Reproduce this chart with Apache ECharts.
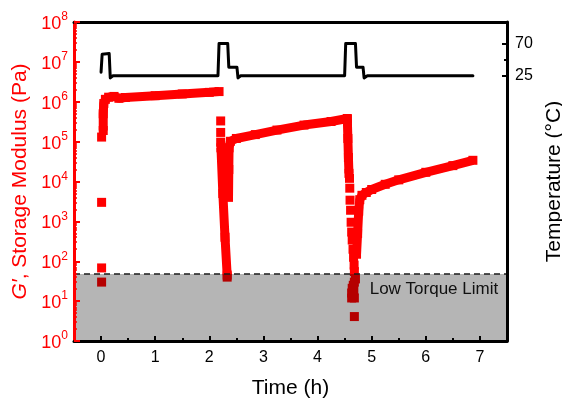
<!DOCTYPE html>
<html>
<head>
<meta charset="utf-8">
<title>Storage modulus and temperature vs time</title>
<script src="https://cdn.jsdelivr.net/npm/echarts@6/dist/echarts.min.js"></script>
<style>
  html, body { margin: 0; padding: 0; background: #ffffff; }
  #chart { width: 562px; height: 401px; }
</style>
</head>
<body>
<div id="chart"></div>
<script>
// Axis ticks
const timeTicks = [0, 1, 2, 3, 4, 5, 6, 7];
const timeMinorTicks = [0.5, 1.5, 2.5, 3.5, 4.5, 5.5, 6.5];
const modulusDecades = [1, 10, 100, 1e3, 1e4, 1e5, 1e6, 1e7, 1e8];
const temperatureTicks = [25, 70];
const temperatureMinorTicks = [47.5];
const lowTorqueLimit = 48; // Pa

// G' (time in h, modulus in Pa) — continuous stretches of the measurement
const gelRun1 = [
  [0.04, 1.9e5], [0.04, 5e5], [0.05, 9e5], [0.08, 1.15e6], [0.14, 1.3e6],
  [0.24, 1.36e6], [0.33, 1.22e6], [0.45, 1.28e6], [1.0, 1.42e6],
  [1.5, 1.57e6], [2.0, 1.72e6], [2.18, 1.8e6]
];
const meltRun2 = [
  [2.215, 7e4], [2.25, 5000], [2.29, 400], [2.33, 45]
];
const gelRun2 = [
  [2.355, 4000], [2.36, 2e4], [2.365, 7e4], [2.39, 1.02e5], [2.5, 1.2e5],
  [2.85, 1.5e5], [3.25, 1.95e5], [3.75, 2.6e5], [4.25, 3.2e5], [4.55, 3.8e5]
];
const meltRun3 = [
  [4.55, 3.6e5], [4.56, 1.2e5], [4.57, 4e4], [4.58, 1.6e4]
];
const gelRun3 = [
  [4.72, 150], [4.74, 500], [4.76, 1800], [4.78, 3500], [4.82, 4500],
  [4.9, 5300], [5.0, 6300], [5.25, 8500], [5.5, 1.1e4], [6.0, 1.7e4],
  [6.5, 2.5e4], [6.87, 3.4e4]
];
// G' single readings between the stretches
const modulusPoints = [
  [0.01, 1.3e5], [0.01, 3000], [0.01, 68], [0.01, 30],
  [2.21, 3.3e5], [2.21, 1.7e5], [2.21, 9.7e4], [2.33, 40],
  [4.59, 1.2e4], [4.595, 6800], [4.60, 3400], [4.61, 1900], [4.62, 950],
  [4.63, 540], [4.64, 340], [4.655, 200], [4.665, 126], [4.675, 80], [4.68, 55],
  [4.70, 36], [4.68, 30], [4.66, 25], [4.64, 21], [4.67, 19], [4.63, 16],
  [4.66, 14], [4.63, 12], [4.68, 12], [4.68, 4.1]
];

// Temperature program (time in h, °C)
const temperature = [
  [0, 30], [0.02, 55], [0.05, 56], [0.15, 56], [0.17, 22], [0.22, 25],
  [2.16, 25], [2.18, 70], [2.34, 70], [2.36, 37], [2.51, 37], [2.53, 22], [2.58, 25],
  [4.50, 25], [4.52, 70], [4.70, 70], [4.72, 37], [4.84, 37], [4.86, 22], [4.92, 25],
  [6.87, 25]
];

const RED = '#ff0000';
const FONT = '"Liberation Sans", Arial, sans-serif';

const logMinorTicks = [];
for (let e = 0; e < 8; e++) {
  for (let m = 2; m <= 9; m++) logMinorTicks.push(m * Math.pow(10, e));
}

function gelSeries(data) {
  return {
    type: 'line', data: data, xAxisIndex: 0, yAxisIndex: 0, z: 3,
    symbol: 'rect', symbolSize: 9, showSymbol: true,
    itemStyle: { color: RED, opacity: 1 },
    lineStyle: { color: RED, width: 9, join: 'bevel', opacity: 1 },
    silent: true, animation: false
  };
}

const chart = echarts.init(document.getElementById('chart'), null, { renderer: 'canvas' });

chart.setOption({
  animation: false,
  backgroundColor: '#ffffff',
  textStyle: { fontFamily: FONT },
  grid: { left: 74, right: 55, top: 22, bottom: 60, containLabel: false, outerBoundsMode: 'none' },
  xAxis: [
    {
      type: 'value', min: -0.5, max: 7.5, position: 'bottom', z: 20,
      name: 'Time (h)', nameLocation: 'middle', nameGap: 37,
      nameTextStyle: { fontSize: 21, color: '#000', fontFamily: FONT },
      axisLine: { onZero: false, lineStyle: { color: '#000', width: 3 } },
      axisTick: { customValues: timeTicks, inside: true, length: 5, lineStyle: { color: '#000', width: 2 } },
      axisLabel: { customValues: timeTicks, fontSize: 16, color: '#000', margin: 9, fontFamily: FONT },
      splitLine: { show: false }
    },
    {
      type: 'value', min: -0.5, max: 7.5, position: 'bottom', z: 20,
      axisLine: { show: false, onZero: false },
      axisTick: { customValues: timeMinorTicks, inside: true, length: 3, lineStyle: { color: '#000', width: 2 } },
      axisLabel: { show: false },
      splitLine: { show: false }
    },
    {
      type: 'value', min: -0.5, max: 7.5, position: 'top', z: 20,
      axisLine: { onZero: false, lineStyle: { color: '#000', width: 3 } },
      axisTick: { show: false },
      axisLabel: { show: false },
      splitLine: { show: false }
    }
  ],
  yAxis: [
    {
      type: 'log', logBase: 10, min: 1, max: 1e8, position: 'left', z: 20,
      name: '{i|G′}, Storage Modulus (Pa)', nameLocation: 'middle', nameGap: 40,
      nameTextStyle: {
        fontSize: 21, color: RED, fontFamily: FONT,
        rich: { i: { fontSize: 21, color: RED, fontStyle: 'italic', fontFamily: FONT } }
      },
      axisLine: { onZero: false, lineStyle: { color: RED, width: 3 } },
      axisTick: { customValues: modulusDecades, inside: true, length: 6, lineStyle: { color: RED, width: 2 } },
      axisLabel: {
        customValues: modulusDecades, margin: 6, color: RED,
        formatter: function (v) { return '{b|10}{s|' + Math.round(Math.log10(v)) + '}'; },
        rich: {
          b: { fontSize: 18, color: RED, fontFamily: FONT, verticalAlign: 'bottom', lineHeight: 22 },
          s: { fontSize: 12, color: RED, fontFamily: FONT, verticalAlign: 'top', lineHeight: 12 }
        }
      },
      splitLine: { show: false }
    },
    {
      type: 'log', logBase: 10, min: 1, max: 1e8, position: 'left', z: 20,
      axisLine: { show: false, onZero: false },
      axisTick: { customValues: logMinorTicks, inside: true, length: 3, lineStyle: { color: RED, width: 1.5 } },
      axisLabel: { show: false },
      splitLine: { show: false }
    },
    {
      type: 'value', min: -345, max: 100, position: 'right', z: 20,
      name: 'Temperature (°C)', nameLocation: 'middle', nameGap: 32,
      nameTextStyle: { fontSize: 21, color: '#000', fontFamily: FONT },
      axisLine: { onZero: false, lineStyle: { color: '#000', width: 3 } },
      axisTick: { customValues: temperatureTicks, inside: true, length: 5, lineStyle: { color: '#000', width: 2 } },
      axisLabel: { customValues: temperatureTicks, fontSize: 16, color: '#000', margin: 8, fontFamily: FONT },
      splitLine: { show: false }
    },
    {
      type: 'value', min: -345, max: 100, position: 'right', z: 20,
      axisLine: { show: false, onZero: false },
      axisTick: { customValues: temperatureMinorTicks, inside: true, length: 3, lineStyle: { color: '#000', width: 2 } },
      axisLabel: { show: false },
      splitLine: { show: false }
    }
  ],
  series: [
    gelSeries(gelRun1),
    gelSeries(meltRun2),
    gelSeries(gelRun2),
    gelSeries(meltRun3),
    gelSeries(gelRun3),
    {
      type: 'scatter', data: modulusPoints, xAxisIndex: 0, yAxisIndex: 0, z: 3,
      symbol: 'rect', symbolSize: 9, itemStyle: { color: RED, opacity: 1 }, silent: true
    },
    {
      type: 'line', data: temperature, xAxisIndex: 0, yAxisIndex: 2, z: 4,
      showSymbol: false, symbol: 'none',
      lineStyle: { color: '#000', width: 3, join: 'round', cap: 'round' },
      silent: true
    },
    {
      // region below the instrument's low-torque limit
      type: 'line', data: [], xAxisIndex: 0, yAxisIndex: 0, z: 10, silent: true,
      markArea: {
        silent: true, z: 10,
        itemStyle: { color: 'rgba(0,0,0,0.29)' },
        label: { show: false },
        data: [[{ yAxis: 1 }, { yAxis: lowTorqueLimit }]]
      },
      markLine: {
        silent: true, z: 10, symbol: 'none',
        label: { show: false },
        lineStyle: { color: '#1a1a1a', type: [6, 4], width: 1.5 },
        data: [{ yAxis: lowTorqueLimit }]
      }
    }
  ],
  graphic: []
});

// Caption inside the shaded region, anchored to data coordinates
const capPos = chart.convertToPixel({ xAxisIndex: 0, yAxisIndex: 0 }, [6.15, 20]);
chart.setOption({
  graphic: [{
    type: 'text', x: capPos[0], y: capPos[1], z: 30, silent: true,
    style: {
      text: 'Low Torque Limit', fill: '#111', fontSize: 17, fontFamily: FONT,
      align: 'center', verticalAlign: 'middle'
    }
  }]
});
</script>
</body>
</html>
